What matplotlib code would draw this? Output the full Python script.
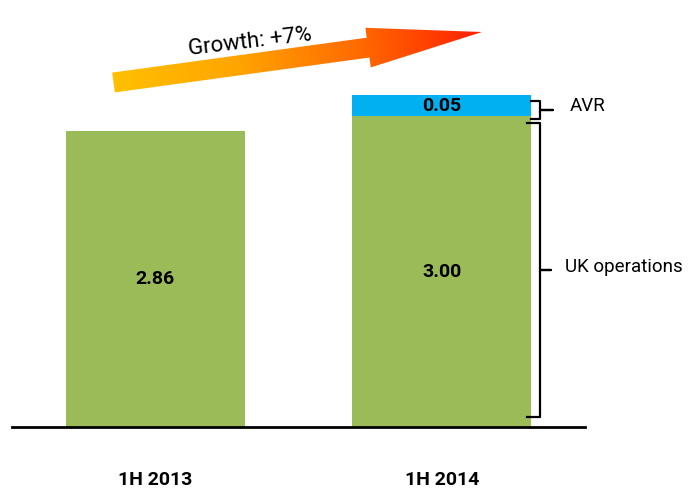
import numpy as np
import matplotlib.pyplot as plt
from matplotlib.patches import Polygon
from matplotlib.colors import LinearSegmentedColormap

# data
periods = ["1H 2013", "1H 2014"]
uk_operations = [2.86, 3.00]
avr = [0.0, 0.05]

GREEN = "#9BBB59"
BLUE = "#00B0F0"
AVR_MIN_HEIGHT = 0.2  # the blue bit is drawn taller than scale so the label fits
BAR_W = 0.625

plt.rcParams['font.family'] = ['Roboto', 'DejaVu Sans']

fig = plt.figure(figsize=(6.88, 4.9), dpi=100)
ax = fig.add_axes([12 / 688, 63 / 490, 573 / 688, 427 / 490])

x = np.arange(len(periods))
avr_drawn = [max(v, AVR_MIN_HEIGHT) if v > 0 else 0 for v in avr]
ax.bar(x, uk_operations, width=BAR_W, color=GREEN, zorder=2)
ax.bar(x, avr_drawn, bottom=uk_operations, width=BAR_W, color=BLUE, zorder=2)

for i in x:
    ax.text(i, uk_operations[i] / 2, f"{uk_operations[i]:.2f}", ha="center", va="center",
            fontsize=14, fontweight="bold", zorder=3)
    if avr[i] > 0:
        ax.text(i, uk_operations[i] + avr_drawn[i] / 2, f"{avr[i]:.2f}", ha="center",
                va="center", fontsize=14, fontweight="bold", zorder=3)

ax.set_xlim(-0.5, 1.5)
ax.set_ylim(0, 4.12)
ax.set_yticks([])
ax.set_xticks(x, periods, fontsize=14, fontweight="bold")
ax.tick_params(axis="x", length=0, pad=32)
for s in ["top", "left", "right"]:
    ax.spines[s].set_visible(False)
ax.spines["bottom"].set_linewidth(2)
ax.spines["bottom"].set_zorder(4)


# braces to the right of the 2014 bar
def brace(y0, y1, hook_x, line_x, tip_x):
    ym = (y0 + y1) / 2
    ax.plot([hook_x, line_x, line_x, tip_x, line_x, line_x, hook_x],
            [y1, y1, ym, ym, ym, y0, y0], color="black", lw=1.6,
            clip_on=False, solid_joinstyle="round", zorder=3)
    return ym


bar_right = x[1] + BAR_W / 2
ym = brace(0.1, uk_operations[1] - 0.07, bar_right - 0.015, bar_right + 0.03, bar_right + 0.068)
ax.text(bar_right + 0.118, ym + 0.03, "UK operations", ha="left", va="center", fontsize=13.5,
        clip_on=False)
ym = brace(uk_operations[1] - 0.03, uk_operations[1] + avr_drawn[1] - 0.05,
           bar_right, bar_right + 0.03, bar_right + 0.075)
ax.text(bar_right + 0.135, ym + 0.04, "AVR", ha="left", va="center", fontsize=13.5, clip_on=False)

# growth arrow, drawn in pixel coords on an overlay
ov = fig.add_axes([0, 0, 1, 1], zorder=5)
ov.set_xlim(0, 688)
ov.set_ylim(490, 0)
ov.axis("off")

tail = np.array([113.5, 82.5])
tip = np.array([482.0, 32.0])
d = tip - tail
L = np.hypot(*d)
u = d / L
n = np.array([-u[1], u[0]])
sw, hw, hl = 20, 40, 115
local = [(0, -sw / 2), (L - hl, -sw / 2), (L - hl, -hw / 2), (L, 0),
         (L - hl, hw / 2), (L - hl, sw / 2), (0, sw / 2)]
pts = np.array([tail + s * u + t * n for s, t in local])
poly = Polygon(pts, closed=True, facecolor="none", edgecolor="none")
ov.add_patch(poly)

xs = np.linspace(pts[:, 0].min() - 2, pts[:, 0].max() + 2, 400)
ys = np.linspace(pts[:, 1].min() - 2, pts[:, 1].max() + 2, 120)
XX, YY = np.meshgrid(xs, ys)
grad = ((XX - tail[0]) * u[0] + (YY - tail[1]) * u[1]) / L
cmap = LinearSegmentedColormap.from_list("grow", ["#FFC000", "#FFA500", "#FF6A00", "#FF2000"])
im = ov.imshow(grad, extent=(xs[0], xs[-1], ys[0], ys[-1]), origin="lower", cmap=cmap,
               vmin=0, vmax=1, aspect="auto", interpolation="bilinear")
im.set_clip_path(poly)

growth = (uk_operations[1] + avr[1]) / (uk_operations[0] + avr[0]) - 1
angle = np.degrees(np.arctan2(-d[1], d[0]))
ov.text(250, 42, f"Growth: +{growth * 100:.0f}%", ha="center", va="center",
        rotation=angle - 1, fontsize=16, rotation_mode="anchor")

fig.savefig("out.png", dpi=100)
